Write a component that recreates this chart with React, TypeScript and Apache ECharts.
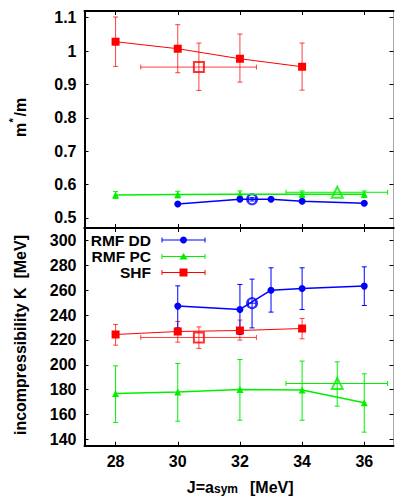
import React, { useEffect, useRef } from 'react';
import * as echarts from 'echarts';

// ---- tick values ----
const xTicks = [28, 30, 32, 34, 36];
const mTicks = [0.5, 0.6, 0.7, 0.8, 0.9, 1, 1.1];
const kTicks = [140, 160, 180, 200, 220, 240, 260, 280, 300];

// ---- RMF DD (blue circles) ----
const ddJ = [30, 32, 33, 34, 36];
const ddM = [0.542, 0.556, 0.556, 0.55, 0.544];
const ddK = [247.2, 244.5, 260.0, 261.4, 263.3];
const ddKLo = [229.7, 224.4, 242.4, 244.5, 247.7];
const ddKHi = [263.5, 264.6, 278.0, 278.0, 278.8];
// average (open circle): value, low, high
const ddAvgJ = [32.39, 32.27, 32.51];
const ddAvgM = [0.556, 0.551, 0.561];
const ddAvgK = [249.6, 229.7, 268.9];

// ---- RMF PC (green triangles) ----
const pcJ = [28, 30, 32, 34, 36];
const pcM = [0.569, 0.57, 0.571, 0.571, 0.571];
const pcMErr = [0.01, 0.01, 0.01, 0.01, 0.01];
const pcK = [177.0, 178.1, 180.2, 179.7, 169.5];
const pcKLo = [153.7, 154.7, 155.5, 155.5, 145.9];
const pcKHi = [199.2, 201.1, 204.3, 203.0, 192.8];
const pcAvgJ = [35.13, 33.48, 36.75];
const pcAvgM = [0.577, 0.577, 0.577];
const pcAvgK = [185.0, 166.8, 202.4];

// ---- SHF (red squares) ----
const shfJ = [28, 30, 32, 34];
const shfM = [1.028, 1.007, 0.977, 0.953];
const shfMLo = [0.954, 0.935, 0.907, 0.883];
const shfMHi = [1.102, 1.079, 1.051, 1.024];
const shfK = [224.4, 226.8, 227.6, 229.2];
const shfKLo = [215.8, 218.2, 219.9, 220.9];
const shfKHi = [232.5, 234.9, 236.0, 237.3];
const shfAvgJ = [30.68, 28.81, 32.53];
const shfAvgM = [0.952, 0.882, 1.024];
const shfAvgK = [222.0, 213.2, 230.5];

const BLUE = '#0000ff';
const GREEN = '#00f000';
const RED = '#ff0000';
const FONT = "'Liberation Sans', Arial, Helvetica, sans-serif";

const errRender = (color: string) => (params: any, api: any) => {
  const x = api.value(0), y = api.value(1);
  const xl = api.value(2), xh = api.value(3), yl = api.value(4), yh = api.value(5);
  const cap = 2.5;
  const ch: any[] = [];
  const st = { stroke: color, lineWidth: 1 };
  const seg = (x1: number, y1: number, x2: number, y2: number) =>
    ch.push({ type: 'line', shape: { x1, y1, x2, y2 }, style: st });
  if (yl !== yh) {
    const a = api.coord([x, yl]);
    const b = api.coord([x, yh]);
    seg(a[0], a[1], b[0], b[1]);
    seg(a[0] - cap, a[1], a[0] + cap, a[1]);
    seg(b[0] - cap, b[1], b[0] + cap, b[1]);
  }
  if (xl !== xh) {
    const a = api.coord([xl, y]);
    const b = api.coord([xh, y]);
    seg(a[0], a[1], b[0], b[1]);
    seg(a[0], a[1] - cap, a[0], a[1] + cap);
    seg(b[0], b[1] - cap, b[0], b[1] + cap);
  }
  return { type: 'group', children: ch };
};

const zip = (xs: number[], ys: number[]) => xs.map((x, i) => [x, ys[i]]);

function App() {
  const ref = useRef<HTMLDivElement>(null);
  useEffect(() => {
    if (!ref.current) return;
    const chart = echarts.init(ref.current, undefined, { renderer: 'svg' });

    const labelStyle = { fontFamily: FONT, fontWeight: 'bold' as const, fontSize: 16, color: '#000' };
    const tickStyle = { show: true, inside: true, length: 4, lineStyle: { color: '#000', width: 1 } };
    const fmt = (v: number) => String(Number(Number(v).toFixed(2)));

    const xAxisBase = (gridIndex: number, position: string, showLabel: boolean, lineColor = '#000', lineWidth = 2) => ({
      type: 'value', gridIndex, position, min: 27, max: 36.94,
      axisLine: { show: true, onZero: false, lineStyle: { color: lineColor, width: lineWidth } },
      axisTick: { ...tickStyle, customValues: xTicks },
      axisLabel: { show: showLabel, customValues: xTicks, margin: 8, ...labelStyle, formatter: fmt },
      splitLine: { show: false },
    });
    const yAxisBase = (gridIndex: number, position: string, min: number, max: number, ticks: number[], showLabel: boolean, lineColor = '#000', lineWidth = 2) => ({
      type: 'value', gridIndex, position, min, max,
      axisLine: { show: true, onZero: false, lineStyle: { color: lineColor, width: lineWidth } },
      axisTick: { ...tickStyle, customValues: ticks },
      axisLabel: { show: showLabel, customValues: ticks, margin: 8, ...labelStyle, formatter: fmt },
      splitLine: { show: false },
    });

    const errSeries = (name: string, color: string, rows: number[][], xi: number, yi: number) => ({
      type: 'custom', name, xAxisIndex: xi, yAxisIndex: yi, z: 2, silent: true,
      renderItem: errRender(color), data: rows,
    });
    const lineSeries = (color: string, symbol: string, size: number, width: number, data: number[][], xi: number, yi: number) => ({
      type: 'line', xAxisIndex: xi, yAxisIndex: yi, z: 3, silent: true,
      symbol, symbolSize: size, showSymbol: true,
      lineStyle: { color, width }, itemStyle: { color },
      data,
    });
    const openSeries = (color: string, symbol: string, size: number, point: number[], xi: number, yi: number) => ({
      type: 'scatter', xAxisIndex: xi, yAxisIndex: yi, z: 1, silent: true,
      symbol, symbolSize: size, itemStyle: { color, borderWidth: 1 },
      data: [point],
    });

    const series: any[] = [
      // ---- top panel (m*/m) ----
      openSeries(RED, 'emptyRect', 10, [shfAvgJ[0], shfAvgM[0]], 0, 0),
      openSeries(GREEN, 'emptyTriangle', 11, [pcAvgJ[0], pcAvgM[0]], 0, 0),
      openSeries(BLUE, 'emptyCircle', 10, [ddAvgJ[0], ddAvgM[0]], 0, 0),
      errSeries('shfErrM', 'rgba(255,0,0,0.75)',
        shfJ.map((j, i) => [j, shfM[i], j, j, shfMLo[i], shfMHi[i]])
          .concat([[shfAvgJ[0], shfAvgM[0], shfAvgJ[1], shfAvgJ[2], shfAvgM[1], shfAvgM[2]]]), 0, 0),
      errSeries('pcErrM', GREEN,
        pcJ.map((j, i) => [j, pcM[i], j, j, pcM[i] - pcMErr[i], pcM[i] + pcMErr[i]])
          .concat([[pcAvgJ[0], pcAvgM[0], pcAvgJ[1], pcAvgJ[2], pcAvgM[1], pcAvgM[2]]]), 0, 0),
      errSeries('ddErrM', BLUE,
        [[ddAvgJ[0], ddAvgM[0], ddAvgJ[1], ddAvgJ[2], ddAvgM[1], ddAvgM[2]]], 0, 0),
      lineSeries(RED, 'rect', 8, 1, zip(shfJ, shfM), 0, 0),
      lineSeries(GREEN, 'triangle', 7, 1.5, zip(pcJ, pcM), 0, 0),
      lineSeries(BLUE, 'circle', 7, 1.5, zip(ddJ, ddM), 0, 0),
      // ---- bottom panel (K) ----
      openSeries(RED, 'emptyRect', 10, [shfAvgJ[0], shfAvgK[0]], 2, 2),
      openSeries(GREEN, 'emptyTriangle', 11, [pcAvgJ[0], pcAvgK[0]], 2, 2),
      openSeries(BLUE, 'emptyCircle', 10, [ddAvgJ[0], ddAvgK[0]], 2, 2),
      errSeries('shfErrK', 'rgba(255,0,0,0.75)',
        shfJ.map((j, i) => [j, shfK[i], j, j, shfKLo[i], shfKHi[i]])
          .concat([[shfAvgJ[0], shfAvgK[0], shfAvgJ[1], shfAvgJ[2], shfAvgK[1], shfAvgK[2]]]), 2, 2),
      errSeries('pcErrK', GREEN,
        pcJ.map((j, i) => [j, pcK[i], j, j, pcKLo[i], pcKHi[i]])
          .concat([[pcAvgJ[0], pcAvgK[0], pcAvgJ[1], pcAvgJ[2], pcAvgK[1], pcAvgK[2]]]), 2, 2),
      errSeries('ddErrK', BLUE,
        ddJ.map((j, i) => [j, ddK[i], j, j, ddKLo[i], ddKHi[i]])
          .concat([[ddAvgJ[0], ddAvgK[0], ddAvgJ[1], ddAvgJ[2], ddAvgK[1], ddAvgK[2]]]), 2, 2),
      lineSeries(RED, 'rect', 8, 1, zip(shfJ, shfK), 2, 2),
      lineSeries(GREEN, 'triangle', 7, 1.5, zip(pcJ, pcK), 2, 2),
      lineSeries(BLUE, 'circle', 7, 1.5, zip(ddJ, ddK), 2, 2),
    ];

    const bold16 = `bold 16px ${FONT}`;
    const boldLegend = `bold 15.5px ${FONT}`;

    // legend drawn as graphic
    const legendRows = [
      { name: 'RMF DD', color: BLUE, y: 240 },
      { name: 'RMF PC', color: GREEN, y: 256.5 },
      { name: 'SHF', color: RED, y: 272.5 },
    ];
    const legendEls: any[] = [];
    legendRows.forEach((r, i) => {
      const st = { stroke: r.color, lineWidth: 1 };
      legendEls.push({ type: 'text', x: 151, y: r.y, style: { text: r.name, align: 'right', verticalAlign: 'middle', font: boldLegend, fill: '#000' } });
      legendEls.push({ type: 'line', shape: { x1: 162, y1: r.y, x2: 205, y2: r.y }, style: st });
      legendEls.push({ type: 'line', shape: { x1: 162, y1: r.y - 2.5, x2: 162, y2: r.y + 2.5 }, style: st });
      legendEls.push({ type: 'line', shape: { x1: 205, y1: r.y - 2.5, x2: 205, y2: r.y + 2.5 }, style: st });
      if (i === 0) legendEls.push({ type: 'circle', shape: { cx: 183.5, cy: r.y, r: 3.5 }, style: { fill: r.color } });
      if (i === 1) legendEls.push({ type: 'polygon', shape: { points: [[183.5, r.y - 3.5], [187.5, r.y + 3], [179.5, r.y + 3]] }, style: { fill: r.color } });
      if (i === 2) legendEls.push({ type: 'rect', shape: { x: 179.5, y: r.y - 4, width: 8, height: 8 }, style: { fill: r.color } });
    });

    const graphic: any[] = [
      ...legendEls,
      // y name top: m*/m
      {
        type: 'group', x: 20, y: 117, rotation: Math.PI / 2,
        children: [
          { type: 'text', x: -20, y: 0, style: { text: 'm', font: bold16, align: 'left', verticalAlign: 'middle', fill: '#000' } },
          { type: 'text', x: -5.5, y: -7.5, style: { text: '*', font: `bold 11px ${FONT}`, align: 'left', verticalAlign: 'middle', fill: '#000' } },
          { type: 'text', x: 0.5, y: 0, style: { text: '/m', font: bold16, align: 'left', verticalAlign: 'middle', fill: '#000' } },
        ],
      },
      // y name bottom
      {
        type: 'text', x: 20, y: 335, rotation: Math.PI / 2,
        style: { text: 'incompressibility K  [MeV]', font: bold16, align: 'center', verticalAlign: 'middle', fill: '#000' },
      },
      // x name
      { type: 'text', x: 214, y: 487, style: { text: 'J=a', font: bold16, align: 'right', verticalAlign: 'middle', fill: '#000' } },
      { type: 'text', x: 214, y: 489, style: { text: 'sym', font: `bold 12px ${FONT}`, align: 'left', verticalAlign: 'middle', fill: '#000' } },
      { type: 'text', x: 250, y: 487, style: { text: '[MeV]', font: bold16, align: 'left', verticalAlign: 'middle', fill: '#000' } },
    ];

    chart.setOption({
      animation: false,
      backgroundColor: '#fff',
      grid: [
        { left: 84.5, top: 11, width: 309, height: 217 },
        { left: 84.5, top: 228, width: 309, height: 217.7 },
      ],
      xAxis: [
        xAxisBase(0, 'bottom', false),
        xAxisBase(0, 'top', false),
        xAxisBase(1, 'bottom', true),
        xAxisBase(1, 'top', false),
      ],
      yAxis: [
        yAxisBase(0, 'left', 0.47, 1.12, mTicks, true),
        yAxisBase(0, 'right', 0.47, 1.12, mTicks, false, '#aaa', 1),
        yAxisBase(1, 'left', 135, 310, kTicks, true),
        yAxisBase(1, 'right', 135, 310, kTicks, false, '#aaa', 1),
      ],
      series,
      graphic,
    });
    return () => chart.dispose();
  }, []);
  return <div ref={ref} style={{ position: 'absolute', left: 0, top: 0, width: 395, height: 496 }} />;
}

export default App;
